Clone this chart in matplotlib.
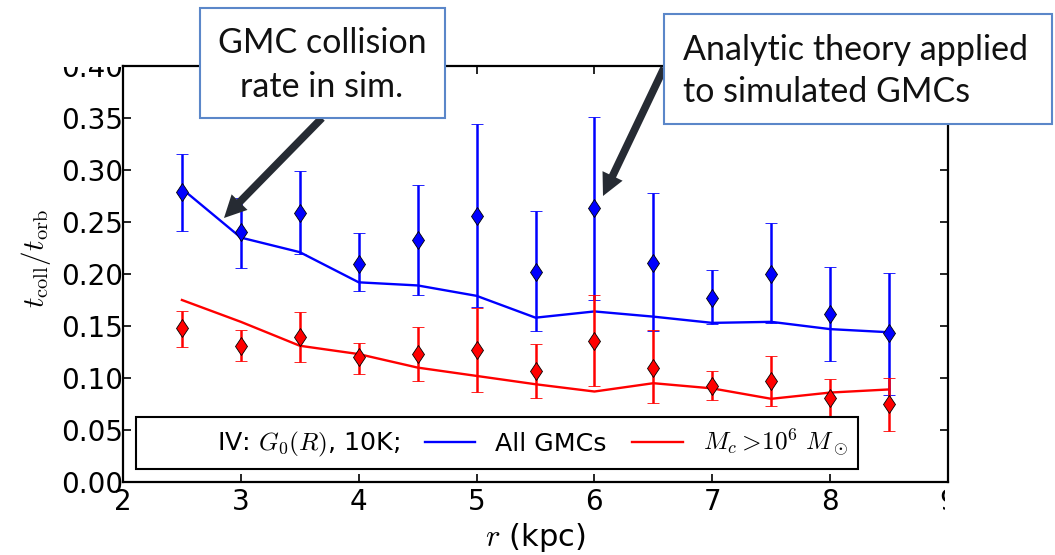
import matplotlib
matplotlib.use("Agg")
import matplotlib.pyplot as plt
from matplotlib.lines import Line2D
from matplotlib.patches import Rectangle, FancyArrowPatch

plt.rcParams['mathtext.fontset'] = 'cm'
plt.rcParams['font.family'] = ['DejaVu Sans']

# ---- data ----
r_kpc = [2.5, 3.0, 3.5, 4.0, 4.5, 5.0, 5.5, 6.0, 6.5, 7.0, 7.5, 8.0, 8.5]

all_pt = [0.279, 0.240, 0.259, 0.210, 0.233, 0.256, 0.202, 0.263, 0.211, 0.177, 0.200, 0.162, 0.143]
all_hi = [0.315, 0.273, 0.299, 0.239, 0.286, 0.344, 0.261, 0.351, 0.278, 0.204, 0.249, 0.207, 0.201]
all_lo = [0.241, 0.206, 0.219, 0.184, 0.180, 0.168, 0.145, 0.175, 0.145, 0.152, 0.153, 0.116, 0.084]
all_theory = [0.282, 0.235, 0.221, 0.192, 0.189, 0.179, 0.158, 0.164, 0.159, 0.153, 0.154, 0.147, 0.144]

big_pt = [0.148, 0.131, 0.139, 0.120, 0.123, 0.127, 0.107, 0.136, 0.110, 0.092, 0.097, 0.081, 0.075]
big_hi = [0.164, 0.146, 0.163, 0.134, 0.149, 0.167, 0.133, 0.180, 0.146, 0.107, 0.121, 0.099, 0.100]
big_lo = [0.130, 0.116, 0.115, 0.104, 0.097, 0.087, 0.081, 0.092, 0.076, 0.079, 0.073, 0.063, 0.049]
big_theory = [0.175, 0.154, 0.131, 0.123, 0.110, 0.102, 0.094, 0.087, 0.095, 0.090, 0.080, 0.086, 0.089]

x_ticks = [2, 3, 4, 5, 6, 7, 8, 9]
y_ticks = [0.00, 0.05, 0.10, 0.15, 0.20, 0.25, 0.30, 0.35, 0.40]

legend_labels = ['IV: $G_0(R)$, 10K;', 'All GMCs', r'$M_c >\!10^6\ M_\odot$']
note_left = 'GMC collision\nrate in sim.'
note_right = 'Analytic theory applied\nto simulated GMCs'

W, H = 1055, 555
fig = plt.figure(figsize=(W / 100, H / 100), dpi=100)
ax = fig.add_axes([123 / W, 1 - 482 / H, (948 - 123) / W, (482 - 66) / H])

ax.plot(r_kpc, all_theory, color='#0000ff', lw=1.7, zorder=2)
ax.plot(r_kpc, big_theory, color='#ff0000', lw=1.7, zorder=2)

def errs(pt, lo, hi):
    return [[p - l for p, l in zip(pt, lo)], [h - p for p, h in zip(pt, hi)]]

for pt, lo, hi, c in [(all_pt, all_lo, all_hi, '#0000ff'), (big_pt, big_lo, big_hi, '#ff0000')]:
    ax.errorbar(r_kpc, pt, yerr=errs(pt, lo, hi), fmt='d', color=c, ecolor=c,
                mfc=c, mec='black', mew=0.6, ms=9.5, elinewidth=1.8, capsize=4,
                capthick=1.8, zorder=3)

ax.set_xlim(2, 9)
ax.set_ylim(0, 0.4)
ax.set_xticks(x_ticks)
ax.set_yticks(y_ticks)
ax.set_yticklabels([f'{v:.2f}' for v in y_ticks])
ax.tick_params(direction='in', length=6, width=1.2, labelsize=20, top=True, right=True)
ax.tick_params(axis='y', pad=0)
ax.tick_params(axis='x', pad=4)
for s in ax.spines.values():
    s.set_linewidth(1.6)

ax.set_xlabel('$r$ (kpc)', fontsize=22, labelpad=4)
ax.set_ylabel(r'$t_{\rm coll}/t_{\rm orb}$', fontsize=21)
ax.yaxis.set_label_coords(-0.085, 0.536)

handles = [Line2D([], [], color='none'),
           Line2D([], [], color='#0000ff', lw=1.7),
           Line2D([], [], color='#ff0000', lw=1.7)]
leg = ax.legend(handles, legend_labels, loc='lower left', ncol=3, fontsize=18.2,
                fancybox=False, framealpha=1, edgecolor='black',
                columnspacing=1.0, borderaxespad=0.5)
leg.get_frame().set_linewidth(1.5)

# ---- slide overlay (cropped image edges, callout boxes) ----
ov = fig.add_axes([0, 0, 1, 1], zorder=10)
ov.set_xlim(0, W)
ov.set_ylim(H, 0)
ov.axis('off')
ov.patch.set_alpha(0)
ov.add_patch(Rectangle((0, 0), W, 64, facecolor='white', edgecolor='none'))
ov.add_patch(Rectangle((0, 0), 120.5, 67, facecolor='white', edgecolor='none'))
ov.add_patch(Rectangle((951, 0), W - 951, H, facecolor='white', edgecolor='none'))
ov.add_patch(Rectangle((944.5, 486), W - 944.5, H - 486, facecolor='white', edgecolor='none'))

box_ec = '#5b87c9'
ov.add_patch(Rectangle((200, 8), 245, 110, facecolor='white', edgecolor=box_ec, lw=1.5, zorder=3))
ov.add_patch(Rectangle((664, 14), 388, 110, facecolor='white', edgecolor=box_ec, lw=1.5, zorder=3))
ov.text(322, 65, note_left, ha='center', va='center', fontsize=24.5, family='Lato',
        linespacing=1.45, color='#111111', zorder=4)
ov.text(683, 71, note_right, ha='left', va='center', fontsize=24.5, family='Lato',
        linespacing=1.38, color='#111111', zorder=4)

arrow_c = '#262b33'
for tail, tip in [((322, 118), (224, 218)), ((664, 68), (603, 196))]:
    ov.add_patch(FancyArrowPatch(tail, tip, arrowstyle='simple,head_width=3.2,head_length=3.2,tail_width=1.1',
                                 mutation_scale=5, color=arrow_c, lw=0, zorder=2,
                                 shrinkA=0, shrinkB=0))

fig.savefig('out.png', dpi=100)
